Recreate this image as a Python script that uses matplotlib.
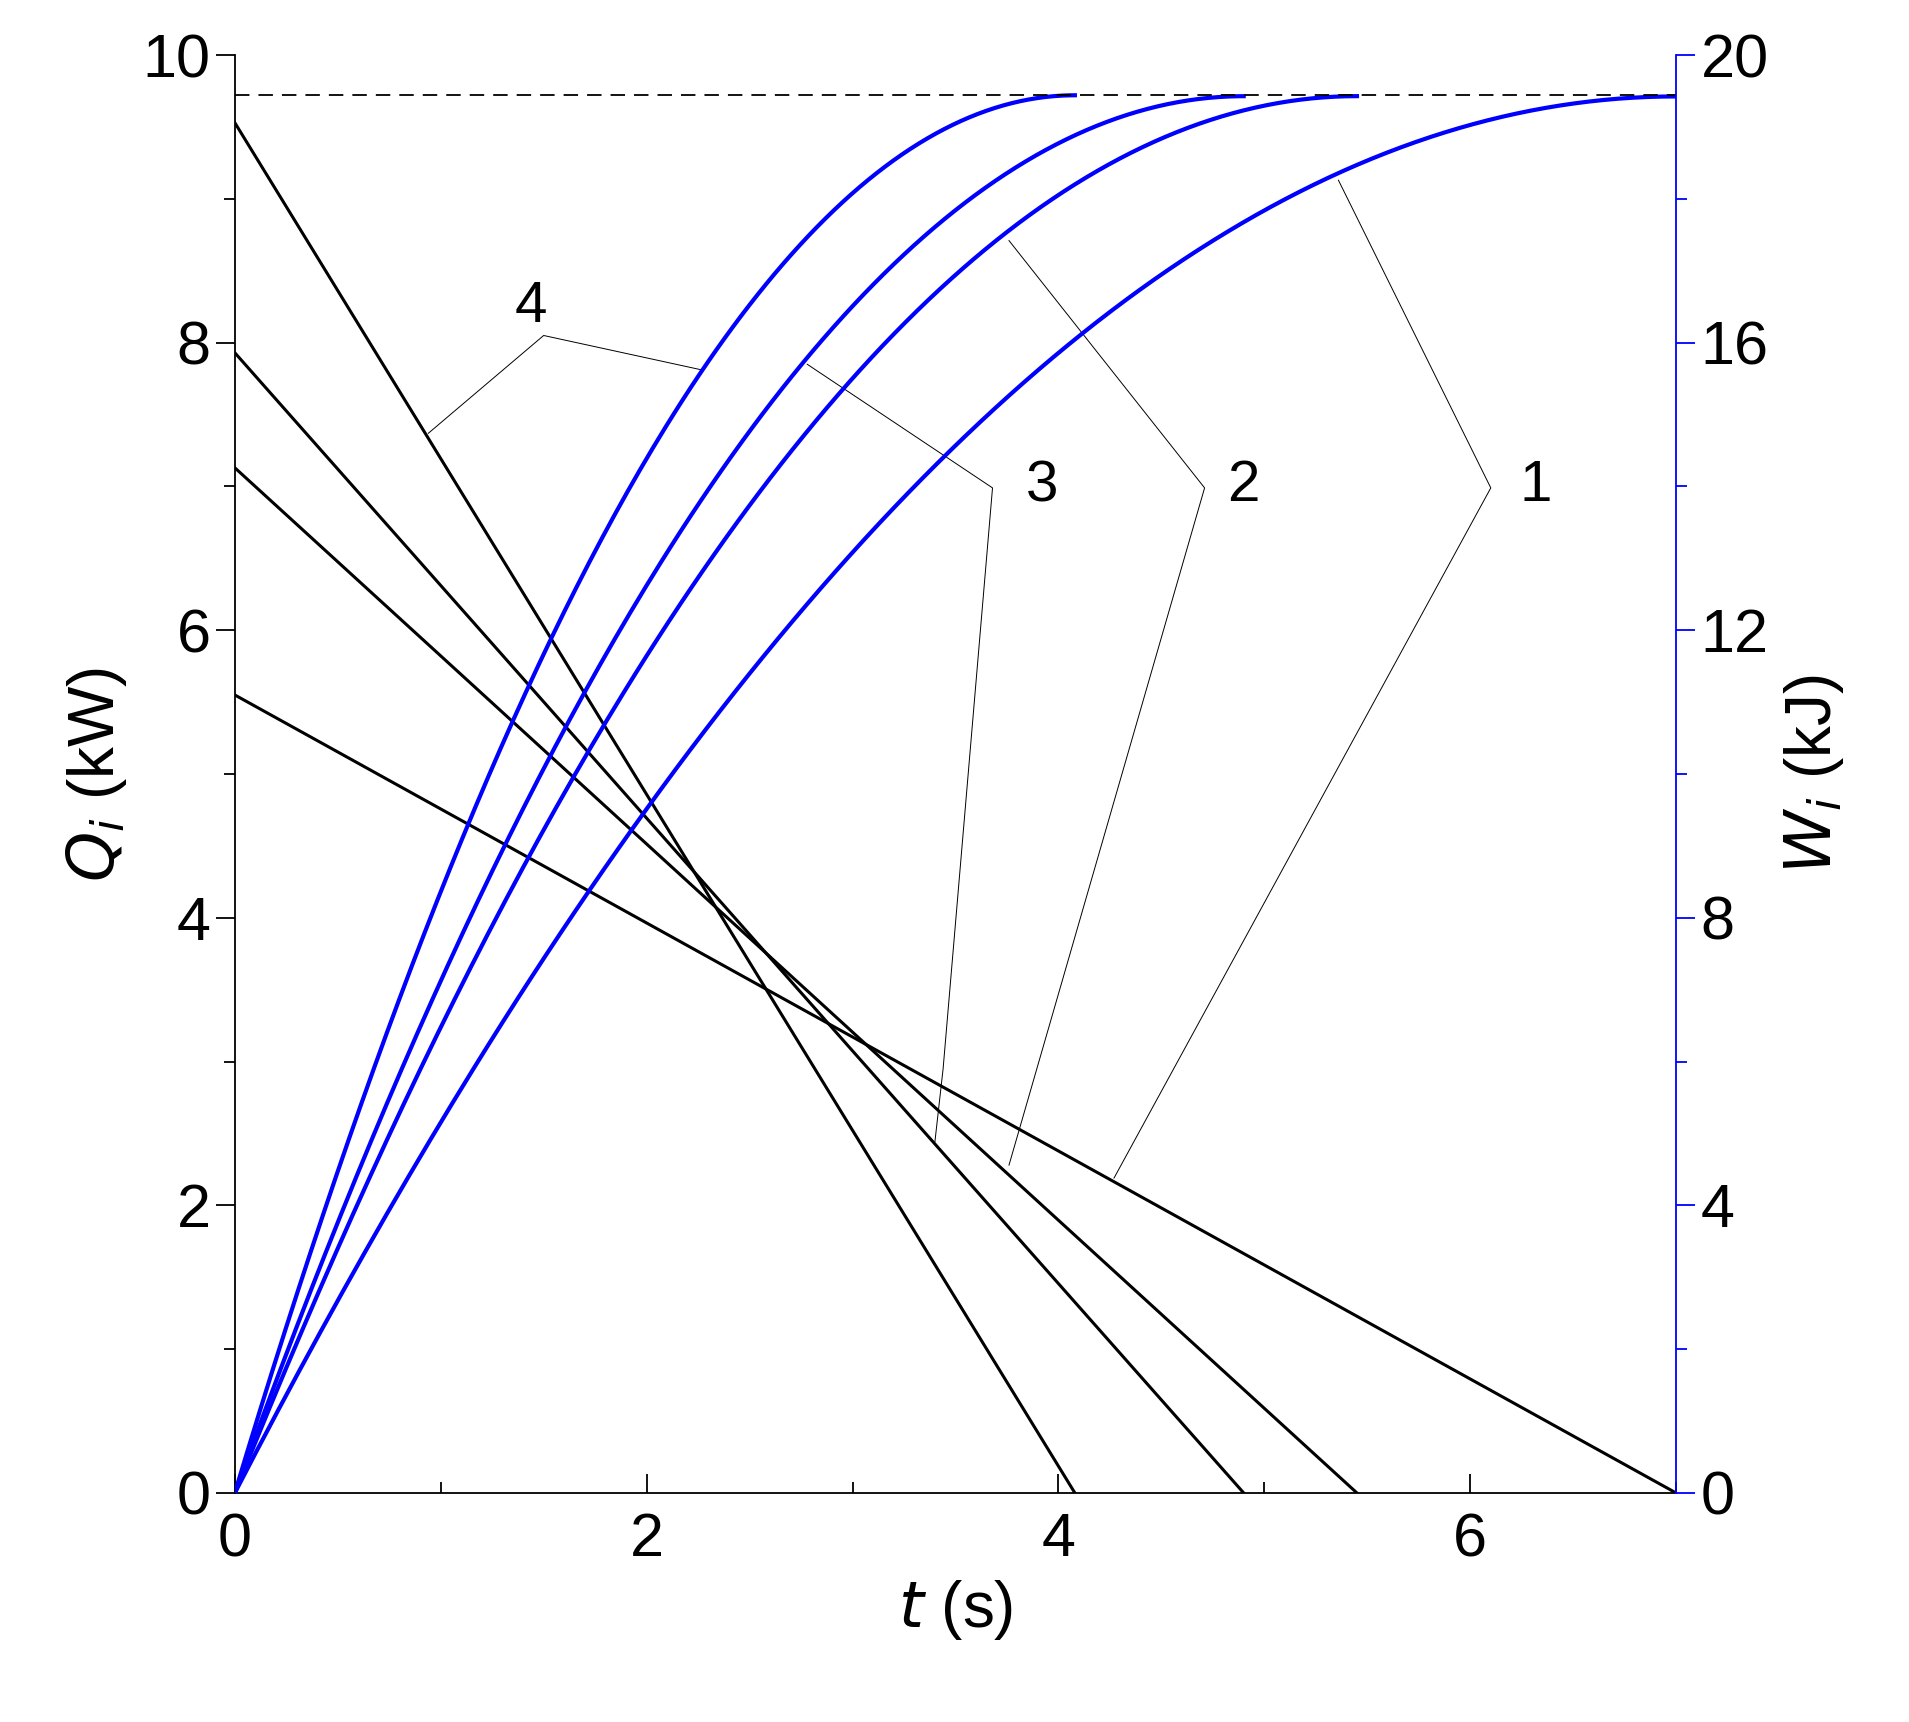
import numpy as np
import matplotlib
matplotlib.use('Agg')
import matplotlib.pyplot as plt

plt.rcParams['font.family'] = ['Liberation Sans', 'DejaVu Sans']

# Q_i(t) decreases linearly from q_start to zero at t_end (curves 1..4)
labels = ['1', '2', '3', '4']
q_start = [5.55, 7.13, 7.93, 9.53]   # kW
t_end = [7.0, 5.45, 4.9, 4.08]       # s
w_limit = 19.44                      # kJ, dashed asymptote

# leader lines (t, Q) for each label
label_pos = {'1': (6.32, 7.0), '2': (4.9, 7.0), '3': (3.92, 7.0), '4': (1.44, 8.25)}
leaders = {
    '1': [[(5.36, 9.13), (6.1, 6.99), (4.27, 2.19)]],
    '2': [[(3.76, 8.71), (4.71, 6.99), (3.76, 2.28)]],
    '3': [[(2.78, 7.85), (3.68, 6.99), (3.44, 2.95), (3.40, 2.44)]],
    '4': [[(0.94, 7.37), (1.5, 8.05), (2.27, 7.81)]],
}

fig = plt.figure(figsize=(19.09, 17.22), dpi=100)
ax = fig.add_axes([0.123, 0.133, 0.755, 0.835])
ax2 = ax.twinx()

for q0, te in zip(q_start, t_end):
    t = np.linspace(0, te, 200)
    q = q0 * (1 - t / te)
    ax.plot(t, q, color='black', lw=2.2)
    w = q0 * (t - t**2 / (2 * te))  # integral of Q
    ax2.plot(t, w, color='blue', lw=3)

ax2.axhline(w_limit, color='black', lw=1.3, ls=(0, (8, 5)))

for lab in labels:
    for seg in leaders[lab]:
        xs, ys = zip(*seg)
        ax.plot(xs, ys, color='black', lw=0.7)
    ax.text(*label_pos[lab], lab, fontsize=42, ha='center', va='center')

ax.set_xlim(0, 7)
ax.set_ylim(0, 10)
ax2.set_ylim(0, 20)
ax.set_xticks([0, 2, 4, 6])
ax.set_xticks([1, 3, 5, 7], minor=True)
ax.set_yticks(range(0, 11, 2))
ax.set_yticks(range(1, 10, 2), minor=True)
ax2.set_yticks(range(0, 21, 4))
ax2.set_yticks(range(2, 20, 4), minor=True)

ax.tick_params(axis='x', which='both', direction='in', labelsize=44, pad=14)
ax.tick_params(axis='x', which='major', length=14, width=1.3)
ax.tick_params(axis='x', which='minor', length=8, width=1.3)
ax.tick_params(axis='y', which='major', direction='out', length=14, width=1.3, labelsize=44)
ax.tick_params(axis='y', which='minor', direction='out', length=8, width=1.3)
ax2.tick_params(axis='y', which='major', direction='out', length=14, width=1.3,
                color='blue', labelsize=44)
ax2.tick_params(axis='y', which='minor', direction='out', length=8, width=1.3, color='blue')

for a in (ax, ax2):
    a.spines['top'].set_visible(False)
ax.spines['right'].set_visible(False)
ax2.spines['right'].set_color('blue')
ax2.spines['left'].set_visible(False)
ax2.spines['bottom'].set_visible(False)
for s in ['left', 'bottom']:
    ax.spines[s].set_linewidth(1.3)
ax2.spines['right'].set_linewidth(1.3)

ax.set_xlabel('$\\mathit{t}$ (s)', fontsize=46, labelpad=6)
ax.set_ylabel('$Q_i$ (kW)', fontsize=46, labelpad=10)
ax2.set_ylabel('$W_i$ (kJ)', fontsize=46, labelpad=10)

fig.savefig('out.png', dpi=100)
